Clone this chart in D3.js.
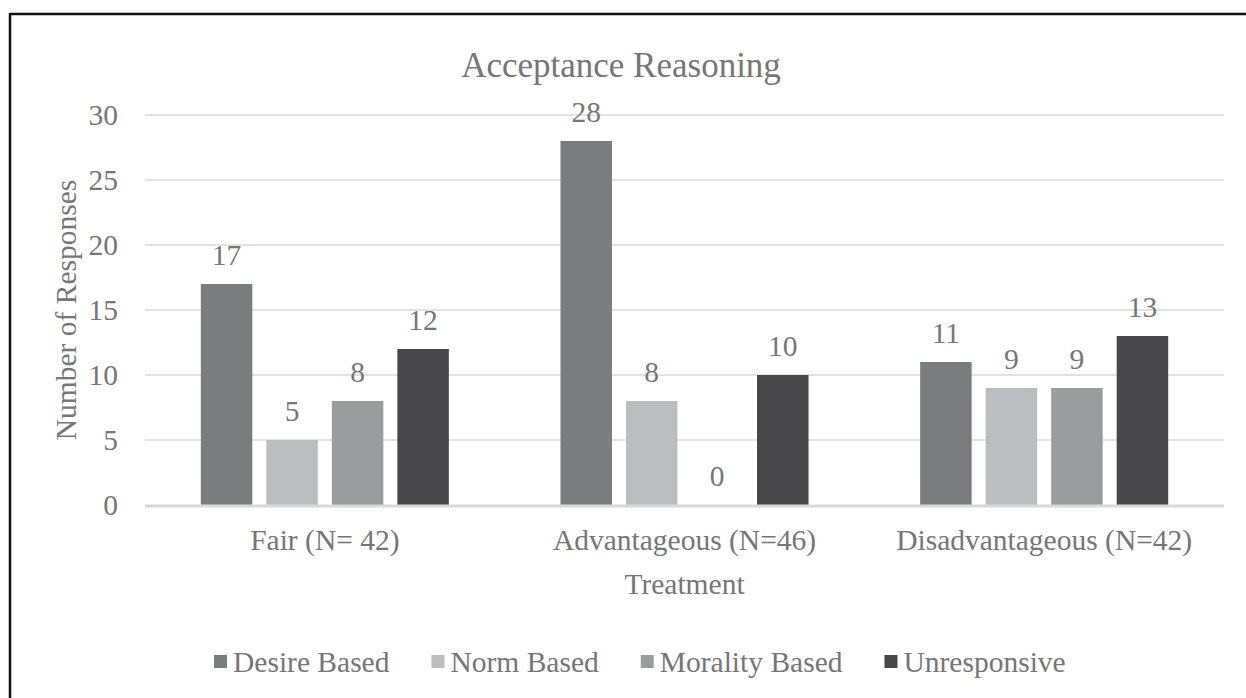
<!DOCTYPE html>
<html>
<head>
<meta charset="utf-8">
<script src="https://cdn.jsdelivr.net/npm/d3@7/dist/d3.min.js"></script>
<style>
  html, body { margin: 0; padding: 0; background: #ffffff; }
  svg { display: block; }
  text { font-family: "Liberation Serif", "Times New Roman", serif; fill: #767676; }
</style>
</head>
<body>
<svg id="chart" width="1246" height="698"></svg>
<script>
const categories = ["Fair (N= 42)", "Advantageous (N=46)", "Disadvantageous (N=42)"];
const seriesNames = ["Desire Based", "Norm Based", "Morality Based", "Unresponsive"];
const desireBased = [17, 28, 11];
const normBased = [5, 8, 9];
const moralityBased = [8, 0, 9];
const unresponsive = [12, 10, 13];
const yTicks = [0, 5, 10, 15, 20, 25, 30];
const colors = ["#7b7c7e", "#bcbdc0", "#9b9c9e", "#474749"];
const titleText = "Acceptance Reasoning";
const xTitle = "Treatment";
const yTitle = "Number of Responses";

const seriesValues = [desireBased, normBased, moralityBased, unresponsive];

const svg = d3.select("#chart");
const W = 1246, H = 698;
const plot = { left: 145, right: 1224, top: 115, bottom: 505 };
const FS = "29.5px";

svg.append("rect").attr("x", 0).attr("y", 0).attr("width", W).attr("height", H).attr("fill", "#fff");
svg.append("line").attr("x1", 10).attr("x2", W).attr("y1", 14).attr("y2", 14)
  .attr("stroke", "#111").attr("stroke-width", 2.5);
svg.append("line").attr("x1", 10).attr("x2", 10).attr("y1", 13).attr("y2", H)
  .attr("stroke", "#111").attr("stroke-width", 2.5);

const y = d3.scaleLinear().domain([0, 30]).range([plot.bottom, plot.top]);
const x0 = d3.scaleBand().domain(categories).range([plot.left, plot.right]).paddingInner(0).paddingOuter(0);
const x1 = d3.scaleBand().domain(seriesNames).range([0, x0.bandwidth()]).paddingInner(0.214).paddingOuter(0.852);

const grid = svg.append("g");
grid.selectAll("line").data(yTicks.filter(d => d !== 0)).join("line")
  .attr("x1", plot.left).attr("x2", plot.right)
  .attr("y1", d => y(d)).attr("y2", d => y(d))
  .attr("stroke", "#d9d9d9").attr("stroke-width", 1.5);

const yAxis = svg.append("g").attr("transform", `translate(${plot.left},0)`)
  .call(d3.axisLeft(y).tickValues(yTicks).tickSize(0).tickPadding(27));
yAxis.select(".domain").remove();
yAxis.selectAll("text").style("font-size", FS).attr("fill", "#767676")
  .style("font-family", '"Liberation Serif", serif');

const groups = svg.append("g").selectAll("g").data(categories).join("g")
  .attr("transform", d => `translate(${x0(d)},0)`);
groups.selectAll("rect").data((c, ci) => seriesNames.map((s, si) => ({ s, si, v: seriesValues[si][ci] })))
  .join("rect")
  .attr("x", d => x1(d.s)).attr("width", x1.bandwidth())
  .attr("y", d => y(d.v)).attr("height", d => y(0) - y(d.v))
  .attr("fill", d => colors[d.si]);
groups.selectAll("text.val").data((c, ci) => seriesNames.map((s, si) => ({ s, si, v: seriesValues[si][ci] })))
  .join("text").attr("class", "val")
  .attr("x", d => x1(d.s) + x1.bandwidth() / 2)
  .attr("y", d => y(d.v) - 19)
  .attr("text-anchor", "middle").style("font-size", FS)
  .text(d => d.v);

svg.append("line").attr("x1", plot.left).attr("x2", plot.right)
  .attr("y1", y(0) + 1).attr("y2", y(0) + 1)
  .attr("stroke", "#d9d9d9").attr("stroke-width", 3);

const xAxis = svg.append("g").attr("transform", `translate(0,${plot.bottom})`)
  .call(d3.axisBottom(x0).tickSize(0).tickPadding(24));
xAxis.select(".domain").remove();
xAxis.selectAll("text").style("font-size", FS).attr("fill", "#767676")
  .style("font-family", '"Liberation Serif", serif');

svg.append("text").attr("x", 621).attr("y", 77).attr("text-anchor", "middle")
  .style("font-size", "35px").text(titleText);
svg.append("text").attr("x", (plot.left + plot.right) / 2).attr("y", 594).attr("text-anchor", "middle")
  .style("font-size", FS).text(xTitle);
svg.append("text").attr("transform", `translate(76,${(plot.top + plot.bottom) / 2}) rotate(-90)`)
  .attr("text-anchor", "middle").style("font-size", FS).text(yTitle);

const legend = svg.append("g");
let lx = 214;
seriesNames.forEach((name, i) => {
  const g = legend.append("g");
  g.append("rect").attr("x", lx).attr("y", 655).attr("width", 13).attr("height", 13).attr("fill", colors[i]);
  const t = g.append("text").attr("x", lx + 19).attr("y", 672).style("font-size", FS).text(name);
  const w = t.node().getComputedTextLength();
  lx = lx + 19 + w + 42;
});
</script>
</body>
</html>
